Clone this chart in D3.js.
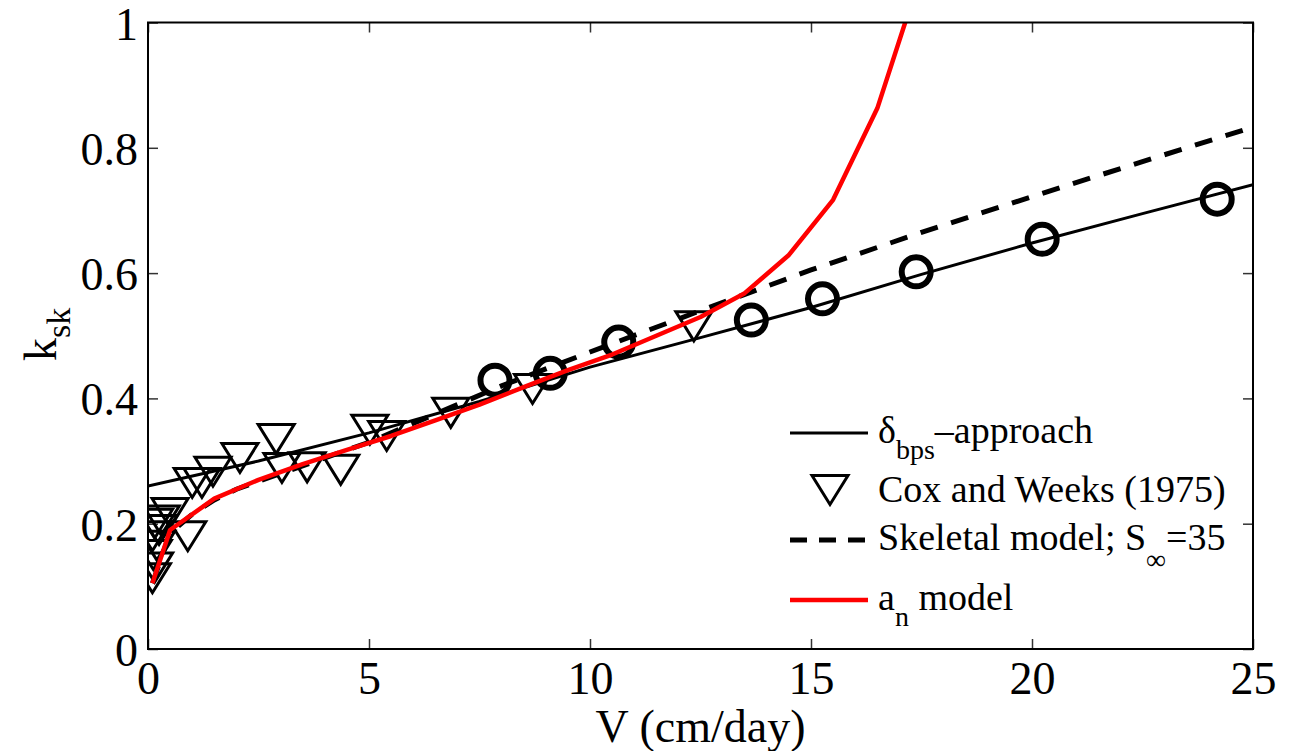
<!DOCTYPE html>
<html>
<head>
<meta charset="utf-8">
<script src="https://cdn.jsdelivr.net/npm/d3@7"></script>
<style>
  body { margin: 0; background: #fff; }
  svg text { font-family: "Liberation Serif", "DejaVu Serif", serif; fill: #000; }
</style>
</head>
<body>
<div id="chart"></div>
<script>
// Axis ticks
const vTicks = [0, 5, 10, 15, 20, 25];
const kTicks = [0, 0.2, 0.4, 0.6, 0.8, 1];
const kTickLabels = ["0", "0.2", "0.4", "0.6", "0.8", "1"];

// delta_bps approach curve
const bpsV = [0, 2.5, 5, 7.5, 10, 12.5, 15, 17.5, 20, 22.5, 25];
const bpsK = [0.26, 0.30, 0.345, 0.395, 0.45, 0.497, 0.545, 0.598, 0.648, 0.695, 0.741];

// points computed with the delta_bps approach
const circV = [7.85, 9.1, 10.65, 13.65, 15.26, 17.38, 20.23, 24.19];
const circK = [0.429, 0.440, 0.490, 0.525, 0.559, 0.602, 0.654, 0.718];

// Cox and Weeks (1975) measurements
const coxV = [0.10, 0.15, 0.12, 0.20, 0.10, 0.25, 0.15, 0.30, 0.50, 0.90, 1.00, 1.22, 1.47,
              2.08, 2.90, 3.03, 3.60, 4.36, 5.02, 5.40, 6.85, 8.70, 12.35];
const coxK = [0.113, 0.130, 0.150, 0.165, 0.180, 0.190, 0.200, 0.205, 0.217, 0.180, 0.265, 0.265, 0.283,
              0.305, 0.335, 0.289, 0.290, 0.286, 0.350, 0.340, 0.377, 0.415, 0.515];

// skeletal model, S_inf = 35
const skelV = [0.1, 0.5, 1, 1.5, 2, 3, 4, 5, 6, 7, 8, 9, 10, 12.5, 15, 17.5, 20, 22.5, 25];
const skelK = [0.105, 0.185, 0.215, 0.238, 0.255, 0.28, 0.305, 0.33, 0.36, 0.39, 0.42, 0.447,
               0.474, 0.54, 0.605, 0.665, 0.722, 0.778, 0.833];

// a_n model
const anV = [0.1, 0.5, 1.5, 2.5, 3.5, 4.5, 5.5, 6.5, 7.5, 8.5, 9.5, 10.5, 11.5, 12.5, 13.5, 14.5, 15.5, 16.5, 17.5];
const anK = [0.105, 0.19, 0.24, 0.27, 0.295, 0.318, 0.34, 0.365, 0.39, 0.418, 0.445, 0.47,
             0.50, 0.53, 0.568, 0.629, 0.717, 0.863, 1.08];

const W = 1289, H = 751;
const plot = { left: 148, right: 1253, top: 22.5, bottom: 649 };
const serif = "'Liberation Serif', 'DejaVu Serif', serif";

const svg = d3.select("#chart")
    .append("svg")
    .attr("width", W)
    .attr("height", H)
    .attr("font-family", serif);

const x = d3.scaleLinear().domain([0, 25]).range([plot.left, plot.right]);
const y = d3.scaleLinear().domain([0, 1]).range([plot.bottom, plot.top]);

svg.append("clipPath")
    .attr("id", "plot-clip")
    .append("rect")
    .attr("x", plot.left)
    .attr("y", plot.top)
    .attr("width", plot.right - plot.left)
    .attr("height", plot.bottom - plot.top);

// Axes: ticks point inward on all four sides
const tickLen = 10;
const fontSize = 46;

const xBottom = svg.append("g")
    .attr("transform", `translate(0,${plot.bottom})`)
    .call(d3.axisBottom(x).tickValues(vTicks).tickSize(-tickLen).tickPadding(12)
        .tickFormat(d3.format("d")));
const xTop = svg.append("g")
    .attr("transform", `translate(0,${plot.top})`)
    .call(d3.axisTop(x).tickValues(vTicks).tickSize(-tickLen).tickFormat(""));
const yLeft = svg.append("g")
    .attr("transform", `translate(${plot.left},0)`)
    .call(d3.axisLeft(y).tickValues(kTicks).tickSize(-tickLen).tickPadding(10)
        .tickFormat((d, i) => kTickLabels[i]));
const yRight = svg.append("g")
    .attr("transform", `translate(${plot.right},0)`)
    .call(d3.axisRight(y).tickValues(kTicks).tickSize(-tickLen).tickFormat(""));

[xBottom, xTop, yLeft, yRight].forEach(g => {
    g.attr("font-family", serif);
    g.select(".domain").remove();
    g.selectAll(".tick line").attr("stroke", "#333").attr("stroke-width", 1.5);
    g.selectAll(".tick text")
        .style("font-family", serif)
        .style("font-size", fontSize + "px")
        .attr("fill", "#000");
});
xBottom.selectAll(".tick text").attr("dy", "0.72em");
yLeft.selectAll(".tick text").attr("dy", "0.36em");

const lineGen = d3.line()
    .x(d => x(d[0]))
    .y(d => y(d[1]));

const layer = svg.append("g").attr("clip-path", "url(#plot-clip)");

// circles on the delta_bps curve
layer.selectAll(".circ")
    .data(d3.zip(circV, circK))
    .join("circle")
    .attr("class", "circ")
    .attr("cx", d => x(d[0]))
    .attr("cy", d => y(d[1]))
    .attr("r", 14.5)
    .attr("fill", "none")
    .attr("stroke", "#000")
    .attr("stroke-width", 6);

layer.append("path")
    .datum(d3.zip(bpsV, bpsK))
    .attr("d", lineGen)
    .attr("fill", "none")
    .attr("stroke", "#000")
    .attr("stroke-width", 3);

// downward triangle marker
const triW = 36, triH = 29;
const triPath = `M${-triW / 2},${-triH / 2}L${triW / 2},${-triH / 2}L0,${triH / 2}Z`;

layer.selectAll(".cox")
    .data(d3.zip(coxV, coxK))
    .join("path")
    .attr("class", "cox")
    .attr("transform", d => `translate(${x(d[0])},${y(d[1])})`)
    .attr("d", triPath)
    .attr("fill", "none")
    .attr("stroke", "#000")
    .attr("stroke-width", 3);

layer.append("path")
    .datum(d3.zip(skelV, skelK))
    .attr("d", lineGen)
    .attr("fill", "none")
    .attr("stroke", "#000")
    .attr("stroke-width", 5)
    .attr("stroke-dasharray", "18,14");

layer.append("path")
    .datum(d3.zip(anV, anK))
    .attr("d", lineGen)
    .attr("fill", "none")
    .attr("stroke", "#ff0000")
    .attr("stroke-width", 4.5)
    .attr("stroke-linejoin", "round");

// Axes box
svg.append("rect")
    .attr("x", plot.left)
    .attr("y", plot.top)
    .attr("width", plot.right - plot.left)
    .attr("height", plot.bottom - plot.top)
    .attr("fill", "none")
    .attr("stroke", "#000")
    .attr("stroke-width", 2);

// Axis labels
svg.append("text")
    .attr("x", (plot.left + plot.right) / 2)
    .attr("y", 742)
    .attr("text-anchor", "middle")
    .style("font-size", fontSize + "px")
    .text("V (cm/day)");

const yLabel = svg.append("text")
    .attr("transform", "translate(56,361) rotate(-90)")
    .style("font-size", fontSize + "px");
yLabel.append("tspan").text("k");
yLabel.append("tspan").attr("dy", 14).style("font-size", "34px").text("sk");

// Legend
const legend = svg.append("g").attr("class", "legend");
const lx0 = 790, lx1 = 868, tx = 878;
const legFont = 38, subFont = 28;

legend.append("line")
    .attr("x1", lx0).attr("x2", lx1).attr("y1", 433).attr("y2", 433)
    .attr("stroke", "#000").attr("stroke-width", 3);
const t1 = legend.append("text").attr("x", tx).attr("y", 443).style("font-size", legFont + "px");
t1.append("tspan").text("δ");
t1.append("tspan").attr("dy", 16).style("font-size", subFont + "px").text("bps");
t1.append("tspan").attr("dy", -16).text("\u2013approach");

legend.append("path")
    .attr("transform", "translate(830,490)")
    .attr("d", triPath)
    .attr("fill", "none")
    .attr("stroke", "#000")
    .attr("stroke-width", 3);
legend.append("text").attr("x", tx).attr("y", 502).style("font-size", legFont + "px")
    .text("Cox and Weeks (1975)");

legend.append("line")
    .attr("x1", lx0).attr("x2", lx1).attr("y1", 540).attr("y2", 540)
    .attr("stroke", "#000").attr("stroke-width", 5).attr("stroke-dasharray", "17,12");
const t3 = legend.append("text").attr("x", tx).attr("y", 550).style("font-size", legFont + "px");
t3.append("tspan").text("Skeletal model; S");
t3.append("tspan").attr("dy", 19).style("font-size", subFont + "px").text("\u221E");
t3.append("tspan").attr("dy", -19).text("=35");

legend.append("line")
    .attr("x1", lx0).attr("x2", lx1).attr("y1", 600).attr("y2", 600)
    .attr("stroke", "#ff0000").attr("stroke-width", 4.5);
const t4 = legend.append("text").attr("x", tx).attr("y", 610).style("font-size", legFont + "px");
t4.append("tspan").text("a");
t4.append("tspan").attr("dy", 16).style("font-size", subFont + "px").text("n");
t4.append("tspan").attr("dy", -16).text(" model");
</script>
</body>
</html>
